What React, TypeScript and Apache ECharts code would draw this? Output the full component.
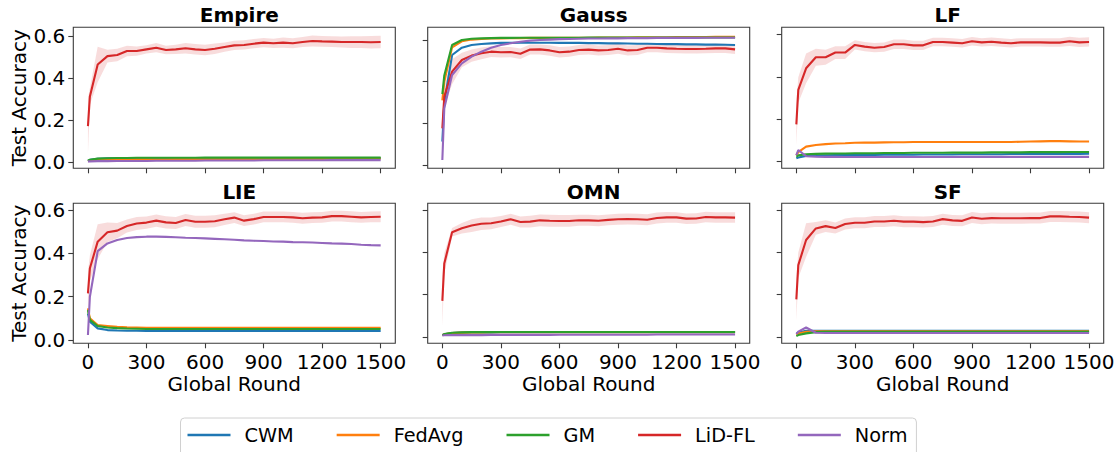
import React, { useEffect, useRef } from "react";
import * as echarts from "echarts";

// ---------- data ----------
const rounds = [0, 10, 50, 100, 150, 200, 250, 300, 350, 400, 450, 500, 550, 600, 650, 700, 750, 800, 850, 900, 950, 1000, 1050, 1100, 1150, 1200, 1250, 1300, 1350, 1400, 1450, 1500];
const xTicks = [0, 300, 600, 900, 1200, 1500];
const yTicks = [0, 0.2, 0.4, 0.6];
const methods = ["CWM", "FedAvg", "GM", "LiD-FL", "Norm"];
const panelTitles = ["Empire", "Gauss", "LF", "LIE", "OMN", "SF"];

// Empire
const empireCWM = [0.005, 0.010, 0.015, 0.017, 0.017, 0.018, 0.018, 0.018, 0.018, 0.018, 0.018, 0.018, 0.018, 0.018, 0.018, 0.018, 0.018, 0.018, 0.018, 0.019, 0.019, 0.019, 0.019, 0.019, 0.019, 0.019, 0.019, 0.019, 0.019, 0.019, 0.019, 0.019];
const empireFedAvg = [0.004, 0.007, 0.010, 0.011, 0.012, 0.012, 0.013, 0.013, 0.013, 0.013, 0.014, 0.014, 0.014, 0.014, 0.014, 0.014, 0.014, 0.015, 0.015, 0.015, 0.015, 0.015, 0.015, 0.015, 0.015, 0.015, 0.016, 0.016, 0.016, 0.016, 0.016, 0.016];
const empireGM = [0.006, 0.011, 0.016, 0.018, 0.019, 0.019, 0.020, 0.020, 0.020, 0.020, 0.020, 0.020, 0.020, 0.021, 0.021, 0.021, 0.021, 0.021, 0.021, 0.021, 0.021, 0.021, 0.021, 0.021, 0.021, 0.021, 0.021, 0.021, 0.021, 0.021, 0.021, 0.021];
const empireLiD = [0.171, 0.312, 0.464, 0.504, 0.509, 0.528, 0.528, 0.536, 0.544, 0.533, 0.536, 0.541, 0.536, 0.533, 0.539, 0.547, 0.555, 0.557, 0.563, 0.568, 0.565, 0.568, 0.565, 0.571, 0.576, 0.574, 0.573, 0.571, 0.571, 0.571, 0.570, 0.571];
const empireLiDStd = [0.13, 0.04, 0.085, 0.03, 0.03, 0.025, 0.022, 0.02, 0.022, 0.02, 0.022, 0.025, 0.025, 0.025, 0.025, 0.022, 0.022, 0.022, 0.022, 0.022, 0.022, 0.024, 0.024, 0.024, 0.026, 0.026, 0.026, 0.026, 0.028, 0.028, 0.03, 0.03];
const empireNorm = [0.003, 0.003, 0.004, 0.004, 0.005, 0.005, 0.005, 0.005, 0.006, 0.006, 0.006, 0.006, 0.006, 0.007, 0.007, 0.007, 0.007, 0.007, 0.007, 0.008, 0.008, 0.008, 0.008, 0.008, 0.008, 0.008, 0.009, 0.009, 0.009, 0.009, 0.009, 0.009];

// Gauss
const gaussCWM = [0.112, 0.300, 0.528, 0.563, 0.576, 0.581, 0.584, 0.586, 0.586, 0.587, 0.587, 0.587, 0.587, 0.586, 0.586, 0.586, 0.585, 0.585, 0.584, 0.584, 0.583, 0.582, 0.582, 0.581, 0.580, 0.580, 0.579, 0.579, 0.578, 0.578, 0.577, 0.576];
const gaussFedAvg = [0.310, 0.400, 0.565, 0.594, 0.602, 0.605, 0.607, 0.608, 0.609, 0.609, 0.610, 0.610, 0.610, 0.611, 0.611, 0.611, 0.611, 0.612, 0.612, 0.612, 0.612, 0.613, 0.613, 0.613, 0.613, 0.614, 0.614, 0.614, 0.614, 0.615, 0.615, 0.615];
const gaussGM = [0.340, 0.430, 0.576, 0.600, 0.606, 0.608, 0.609, 0.610, 0.610, 0.611, 0.611, 0.611, 0.611, 0.611, 0.611, 0.611, 0.612, 0.612, 0.612, 0.612, 0.612, 0.612, 0.612, 0.612, 0.612, 0.612, 0.612, 0.612, 0.612, 0.612, 0.612, 0.612];
const gaussLiD = [0.176, 0.328, 0.448, 0.504, 0.525, 0.536, 0.544, 0.541, 0.542, 0.534, 0.554, 0.555, 0.550, 0.541, 0.544, 0.552, 0.554, 0.550, 0.552, 0.558, 0.550, 0.552, 0.563, 0.563, 0.560, 0.558, 0.557, 0.557, 0.558, 0.560, 0.560, 0.555];
const gaussLiDStd = [0.06, 0.05, 0.06, 0.035, 0.03, 0.028, 0.026, 0.025, 0.025, 0.025, 0.024, 0.024, 0.025, 0.025, 0.025, 0.024, 0.024, 0.024, 0.024, 0.024, 0.024, 0.024, 0.022, 0.022, 0.022, 0.022, 0.022, 0.022, 0.022, 0.022, 0.022, 0.022];
const gaussNorm = [0.024, 0.272, 0.432, 0.488, 0.520, 0.544, 0.563, 0.576, 0.584, 0.592, 0.597, 0.600, 0.602, 0.604, 0.605, 0.606, 0.607, 0.607, 0.608, 0.608, 0.609, 0.609, 0.609, 0.610, 0.610, 0.610, 0.610, 0.610, 0.611, 0.611, 0.611, 0.611];

// LF
const lfCWM = [0.016, 0.020, 0.027, 0.029, 0.030, 0.031, 0.031, 0.032, 0.032, 0.032, 0.033, 0.033, 0.033, 0.033, 0.034, 0.034, 0.034, 0.034, 0.035, 0.035, 0.035, 0.035, 0.035, 0.036, 0.036, 0.036, 0.036, 0.037, 0.037, 0.037, 0.037, 0.038];
const lfFedAvg = [0.031, 0.045, 0.071, 0.079, 0.083, 0.086, 0.087, 0.089, 0.090, 0.090, 0.091, 0.092, 0.092, 0.093, 0.093, 0.093, 0.093, 0.093, 0.093, 0.093, 0.093, 0.093, 0.093, 0.093, 0.094, 0.095, 0.096, 0.097, 0.097, 0.096, 0.095, 0.095];
const lfGM = [0.024, 0.030, 0.035, 0.037, 0.038, 0.039, 0.039, 0.040, 0.040, 0.040, 0.041, 0.041, 0.041, 0.042, 0.042, 0.042, 0.042, 0.043, 0.043, 0.043, 0.043, 0.044, 0.044, 0.044, 0.044, 0.045, 0.045, 0.045, 0.045, 0.046, 0.046, 0.046];
const lfLiD = [0.176, 0.338, 0.440, 0.492, 0.492, 0.514, 0.514, 0.550, 0.542, 0.537, 0.540, 0.553, 0.553, 0.548, 0.548, 0.564, 0.564, 0.561, 0.558, 0.567, 0.562, 0.565, 0.561, 0.558, 0.562, 0.562, 0.562, 0.561, 0.561, 0.567, 0.562, 0.564];
const lfLiDStd = [0.1, 0.06, 0.07, 0.04, 0.035, 0.03, 0.03, 0.022, 0.022, 0.022, 0.022, 0.022, 0.022, 0.022, 0.022, 0.02, 0.02, 0.02, 0.02, 0.02, 0.02, 0.02, 0.02, 0.02, 0.02, 0.02, 0.02, 0.02, 0.02, 0.022, 0.022, 0.022];
const lfNorm = [0.031, 0.055, 0.026, 0.024, 0.023, 0.023, 0.022, 0.022, 0.022, 0.022, 0.022, 0.022, 0.022, 0.022, 0.022, 0.022, 0.022, 0.022, 0.023, 0.023, 0.023, 0.023, 0.023, 0.023, 0.023, 0.023, 0.023, 0.023, 0.023, 0.023, 0.023, 0.023];

// LIE
const lieCWM = [0.123, 0.085, 0.054, 0.046, 0.044, 0.043, 0.043, 0.042, 0.042, 0.042, 0.042, 0.042, 0.042, 0.042, 0.042, 0.042, 0.042, 0.042, 0.042, 0.042, 0.042, 0.042, 0.042, 0.042, 0.042, 0.042, 0.042, 0.042, 0.042, 0.042, 0.042, 0.042];
const lieFedAvg = [0.146, 0.100, 0.069, 0.065, 0.061, 0.059, 0.058, 0.057, 0.057, 0.057, 0.057, 0.057, 0.057, 0.057, 0.057, 0.057, 0.057, 0.057, 0.057, 0.057, 0.057, 0.057, 0.057, 0.057, 0.057, 0.057, 0.057, 0.057, 0.057, 0.057, 0.057, 0.057];
const lieGM = [0.138, 0.093, 0.065, 0.058, 0.055, 0.053, 0.052, 0.051, 0.051, 0.051, 0.051, 0.051, 0.051, 0.051, 0.051, 0.051, 0.051, 0.051, 0.051, 0.051, 0.051, 0.051, 0.051, 0.051, 0.051, 0.051, 0.051, 0.051, 0.051, 0.051, 0.051, 0.051];
const lieLiD = [0.215, 0.331, 0.454, 0.497, 0.505, 0.526, 0.538, 0.542, 0.551, 0.543, 0.540, 0.554, 0.546, 0.546, 0.548, 0.557, 0.565, 0.551, 0.558, 0.568, 0.568, 0.568, 0.566, 0.562, 0.565, 0.566, 0.572, 0.572, 0.569, 0.566, 0.568, 0.569];
const lieLiDStd = [0.1, 0.06, 0.08, 0.045, 0.035, 0.03, 0.03, 0.028, 0.028, 0.028, 0.028, 0.028, 0.028, 0.028, 0.028, 0.026, 0.025, 0.025, 0.025, 0.025, 0.025, 0.025, 0.025, 0.025, 0.025, 0.025, 0.025, 0.025, 0.025, 0.025, 0.025, 0.025];
const lieNorm = [0.023, 0.200, 0.410, 0.446, 0.462, 0.471, 0.475, 0.477, 0.477, 0.476, 0.474, 0.472, 0.471, 0.469, 0.467, 0.465, 0.463, 0.460, 0.458, 0.457, 0.455, 0.454, 0.452, 0.451, 0.450, 0.448, 0.446, 0.445, 0.443, 0.440, 0.438, 0.437];

// OMN
const omnCWM = [0.008, 0.012, 0.018, 0.020, 0.021, 0.021, 0.021, 0.022, 0.022, 0.022, 0.022, 0.022, 0.022, 0.022, 0.022, 0.022, 0.022, 0.022, 0.022, 0.022, 0.022, 0.022, 0.022, 0.022, 0.022, 0.022, 0.022, 0.022, 0.022, 0.022, 0.022, 0.022];
const omnFedAvg = [0.008, 0.012, 0.018, 0.020, 0.021, 0.021, 0.022, 0.022, 0.022, 0.022, 0.022, 0.022, 0.022, 0.022, 0.022, 0.022, 0.022, 0.022, 0.022, 0.022, 0.022, 0.022, 0.022, 0.022, 0.022, 0.022, 0.022, 0.022, 0.022, 0.022, 0.022, 0.022];
const omnGM = [0.008, 0.013, 0.019, 0.021, 0.022, 0.022, 0.022, 0.023, 0.023, 0.023, 0.023, 0.023, 0.023, 0.023, 0.023, 0.023, 0.023, 0.023, 0.023, 0.023, 0.023, 0.023, 0.023, 0.023, 0.023, 0.023, 0.023, 0.023, 0.023, 0.023, 0.023, 0.023];
const omnLiD = [0.171, 0.349, 0.497, 0.516, 0.529, 0.538, 0.540, 0.548, 0.559, 0.546, 0.548, 0.554, 0.552, 0.551, 0.551, 0.554, 0.554, 0.552, 0.556, 0.559, 0.560, 0.559, 0.557, 0.565, 0.568, 0.568, 0.562, 0.563, 0.570, 0.568, 0.568, 0.567];
const omnLiDStd = [0.12, 0.05, 0.02, 0.025, 0.03, 0.03, 0.028, 0.026, 0.026, 0.026, 0.028, 0.028, 0.028, 0.028, 0.028, 0.026, 0.026, 0.026, 0.026, 0.026, 0.026, 0.026, 0.026, 0.026, 0.026, 0.025, 0.025, 0.025, 0.025, 0.025, 0.025, 0.025];
const omnNorm = [0.006, 0.007, 0.008, 0.008, 0.008, 0.008, 0.009, 0.009, 0.009, 0.009, 0.009, 0.009, 0.009, 0.010, 0.010, 0.010, 0.010, 0.010, 0.010, 0.010, 0.010, 0.010, 0.010, 0.011, 0.011, 0.011, 0.011, 0.011, 0.011, 0.011, 0.011, 0.011];

// SF
const sfCWM = [0.015, 0.020, 0.028, 0.028, 0.028, 0.028, 0.028, 0.028, 0.028, 0.028, 0.028, 0.028, 0.028, 0.028, 0.028, 0.028, 0.028, 0.028, 0.028, 0.028, 0.028, 0.028, 0.028, 0.028, 0.028, 0.028, 0.028, 0.028, 0.028, 0.028, 0.028, 0.028];
const sfFedAvg = [0.010, 0.015, 0.024, 0.026, 0.026, 0.026, 0.026, 0.026, 0.026, 0.026, 0.026, 0.026, 0.026, 0.026, 0.026, 0.026, 0.026, 0.026, 0.026, 0.026, 0.026, 0.026, 0.026, 0.026, 0.026, 0.026, 0.026, 0.026, 0.026, 0.026, 0.026, 0.026];
const sfGM = [0.003, 0.008, 0.016, 0.022, 0.023, 0.023, 0.023, 0.023, 0.023, 0.023, 0.023, 0.023, 0.023, 0.023, 0.023, 0.023, 0.023, 0.023, 0.023, 0.023, 0.023, 0.023, 0.023, 0.023, 0.023, 0.023, 0.023, 0.023, 0.023, 0.023, 0.023, 0.023];
const sfLiD = [0.177, 0.339, 0.458, 0.513, 0.524, 0.515, 0.534, 0.540, 0.540, 0.546, 0.546, 0.549, 0.545, 0.545, 0.543, 0.546, 0.557, 0.551, 0.549, 0.565, 0.559, 0.562, 0.561, 0.561, 0.561, 0.562, 0.562, 0.570, 0.570, 0.568, 0.567, 0.564];
const sfLiDStd = [0.1, 0.06, 0.08, 0.03, 0.028, 0.026, 0.026, 0.026, 0.026, 0.026, 0.026, 0.026, 0.026, 0.026, 0.026, 0.026, 0.026, 0.026, 0.026, 0.026, 0.026, 0.026, 0.026, 0.026, 0.026, 0.026, 0.026, 0.026, 0.026, 0.026, 0.026, 0.026];
const sfNorm = [0.013, 0.024, 0.044, 0.019, 0.018, 0.018, 0.018, 0.018, 0.018, 0.018, 0.018, 0.018, 0.018, 0.018, 0.018, 0.018, 0.018, 0.018, 0.018, 0.018, 0.018, 0.018, 0.018, 0.018, 0.018, 0.018, 0.018, 0.018, 0.018, 0.018, 0.018, 0.018];

const panelSeries = [
  [empireCWM, empireFedAvg, empireGM, empireLiD, empireNorm],
  [gaussCWM, gaussFedAvg, gaussGM, gaussLiD, gaussNorm],
  [lfCWM, lfFedAvg, lfGM, lfLiD, lfNorm],
  [lieCWM, lieFedAvg, lieGM, lieLiD, lieNorm],
  [omnCWM, omnFedAvg, omnGM, omnLiD, omnNorm],
  [sfCWM, sfFedAvg, sfGM, sfLiD, sfNorm],
];
const panelLiDStd = [empireLiDStd, gaussLiDStd, lfLiDStd, lieLiDStd, omnLiDStd, sfLiDStd];

// ---------- layout / style ----------
const COLORS = ["#1f77b4", "#ff7f0e", "#2ca02c", "#d62728", "#9467bd"];
const BAND = "rgba(214,39,40,0.16)";
const FONT = "DejaVu Sans";
const COL_LEFT = [73.3, 427.7, 781.7];
const ROW_TOP = [27.3, 203.3];
const ROW_H = [141, 140];
const PANEL_W = 322;
const Y_RANGE = [
  [-0.030, 0.641],
  [-0.016, 0.661],
  [-0.031, 0.633],
  [-0.015, 0.631],
  [-0.031, 0.635],
  [-0.031, 0.632],
];
const FRAME = "#3a3a3a";

function buildOption() {
  const grid: any[] = [];
  const xAxis: any[] = [];
  const yAxis: any[] = [];
  const title: any[] = [];
  const series: any[] = [];

  for (let i = 0; i < 6; i++) {
    const row = Math.floor(i / 3);
    const col = i % 3;
    const left = COL_LEFT[col];
    const top = ROW_TOP[row];
    const h = ROW_H[row];
    grid.push({
      left, top, width: PANEL_W, height: h,
      show: true, borderColor: FRAME, borderWidth: 1.1, backgroundColor: "transparent",
    });
    title.push({
      text: panelTitles[i],
      left: left + PANEL_W / 2,
      top: row === 0 ? -0.5 : 176.5,
      textAlign: "center",
      textStyle: { fontFamily: FONT, fontSize: 20, fontWeight: "bold", color: "#000" },
    });
    xAxis.push({
      type: "value", gridIndex: i, min: -75, max: 1575,
      position: "bottom",
      axisLine: { show: false, onZero: false },
      splitLine: { show: false },
      axisTick: { show: true, customValues: xTicks, length: 5, lineStyle: { color: FRAME, width: 1.1 } },
      axisLabel: {
        show: row === 1, customValues: xTicks, margin: 8.5,
        fontFamily: FONT, fontSize: 20, color: "#000",
        formatter: (v: number) => String(v),
      },
      name: row === 1 ? "Global Round" : "",
      nameLocation: "middle", nameGap: 30.5,
      nameTextStyle: { fontFamily: FONT, fontSize: 20, color: "#000" },
    });
    yAxis.push({
      type: "value", gridIndex: i, min: Y_RANGE[i][0], max: Y_RANGE[i][1],
      position: "left",
      axisLine: { show: false, onZero: false },
      splitLine: { show: false },
      axisTick: { show: true, customValues: yTicks, length: 5, lineStyle: { color: FRAME, width: 1.1 } },
      axisLabel: {
        show: col === 0, customValues: yTicks, margin: 8,
        fontFamily: FONT, fontSize: 20, color: "#000",
        formatter: (v: number) => v.toFixed(1),
      },
      name: col === 0 ? "Test Accuracy" : "",
      nameLocation: "middle", nameGap: 44,
      nameTextStyle: { fontFamily: FONT, fontSize: 20, color: "#000" },
    });

    const vals = panelSeries[i];
    const std = panelLiDStd[i];
    for (let j = 0; j < methods.length; j++) {
      if (methods[j] === "LiD-FL") {
        const mean = vals[j];
        const upper = mean.map((m, k) => m + std[k]);
        const lower = mean.map((m, k) => m - std[k]);
        series.push({
          type: "custom",
          name: "LiD-FL band",
          xAxisIndex: i, yAxisIndex: i,
          silent: true,
          data: [[rounds[0], mean[0]]],
          renderItem: (_p: any, api: any) => {
            const pts: number[][] = [];
            for (let k = 0; k < rounds.length; k++) pts.push(api.coord([rounds[k], upper[k]]));
            for (let k = rounds.length - 1; k >= 0; k--) pts.push(api.coord([rounds[k], lower[k]]));
            return { type: "polygon", shape: { points: pts }, style: { fill: BAND, stroke: null } };
          },
        });
      }
      series.push({
        type: "line",
        name: methods[j],
        xAxisIndex: i, yAxisIndex: i,
        data: rounds.map((r, k) => [r, vals[j][k]]),
        symbol: "none", showSymbol: false,
        color: COLORS[j],
        itemStyle: { color: COLORS[j] },
        lineStyle: { color: COLORS[j], width: 2.1 },
        silent: true,
      });
    }
  }

  return {
    animation: false,
    backgroundColor: "#ffffff",
    textStyle: { fontFamily: FONT },
    title,
    grid,
    xAxis,
    yAxis,
    legend: {
      data: methods,
      left: 180.5,
      top: 418,
      orient: "horizontal",
      icon: "rect",
      itemWidth: 43,
      itemHeight: 2.5,
      itemGap: 43,
      padding: [6, 9, 14, 7],
      borderColor: "#d0d0d0",
      borderWidth: 1,
      borderRadius: 4,
      backgroundColor: "#fff",
      textStyle: { fontFamily: FONT, fontSize: 19.3, color: "#000", lineHeight: 22, padding: [0, 0, 0, 9] },
    },
    series,
  };
}

export default function App() {
  const ref = useRef<HTMLDivElement>(null);
  useEffect(() => {
    if (!ref.current) return;
    const chart = echarts.init(ref.current, undefined, { renderer: "svg" });
    chart.setOption(buildOption() as any);
    return () => chart.dispose();
  }, []);
  return (
    <div
      ref={ref}
      style={{ position: "fixed", left: 0, top: 0, width: 1120, height: 452, background: "#fff" }}
    />
  );
}
